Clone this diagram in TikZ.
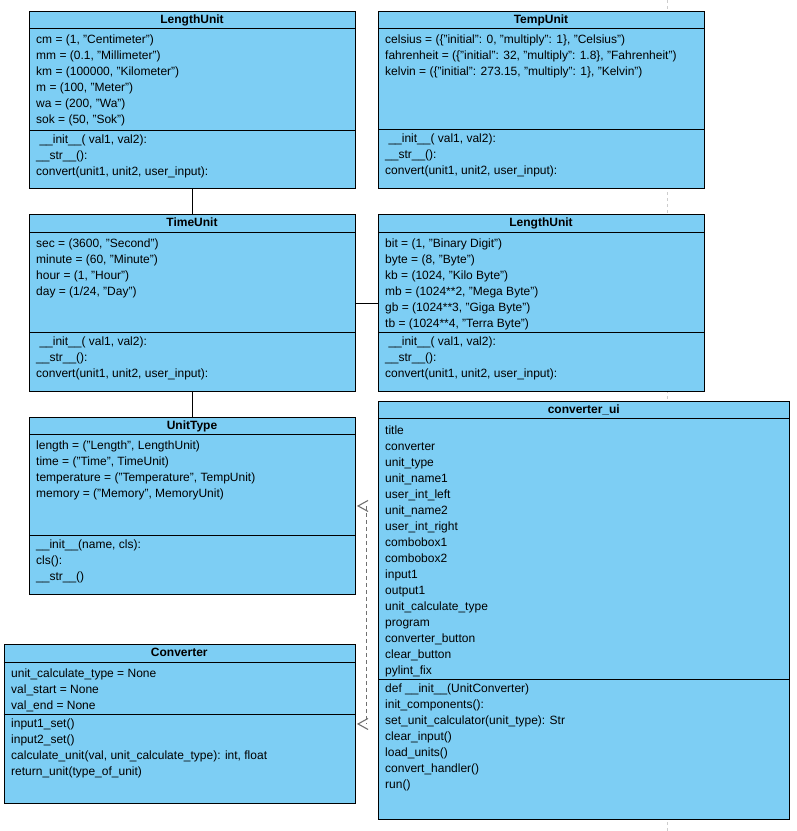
\documentclass[tikz,border=0pt]{standalone}
\usepackage{fontspec}
\setmainfont{Liberation Sans}
\usepackage{tikz}
\usetikzlibrary{arrows.meta}
\definecolor{clsfill}{HTML}{7DCEF4}
\definecolor{pagegray}{HTML}{CDCDCD}
\definecolor{depgray}{HTML}{707070}
\newcommand{\unitops}{\strut\hspace*{3.3pt}\_\_init\_\_( val1, val2):\\\_\_str\_\_():\\convert(unit1, unit2, user\_input):}

\begin{document}
\begin{tikzpicture}[x=1pt,y=-1pt,
  cls/.style={draw,fill=clsfill,line width=0.9pt,anchor=north west,inner sep=0pt},
  ttl/.style={font=\fontsize{12}{16}\selectfont\bfseries,anchor=base,inner sep=0pt},
  txt/.style={font=\fontsize{12}{16}\selectfont,anchor=north west,align=left,inner sep=0pt},
  rule/.style={line width=0.9pt},
  depline/.style={depgray,line width=1.1pt,dash pattern=on 4pt off 3pt},
  deptip/.style={depgray,line width=1.1pt,dash pattern=on 0pt off 40pt,shorten >=1pt,-{Straight Barb[length=10pt,width=11pt]}}]
  \useasboundingbox (0,0) rectangle (797,831);
  % page break of the drawing sheet
  \draw[pagegray,dash pattern=on 3pt off 3pt] (667,0) -- (667,831);

  % LengthUnit (top left)
  \node[cls,minimum width=326pt,minimum height=177pt] (lenU) at (29,11) {};
  \draw[rule] ([yshift=-17pt]lenU.north west) -- ([yshift=-17pt]lenU.north east);
  \draw[rule] ([yshift=-119pt]lenU.north west) -- ([yshift=-119pt]lenU.north east);
  \node[ttl] (lenUt) at (192,23.5) {LengthUnit};
  \node[txt] (lenUa) at (36,32.3) {\strut cm = (1, "Centimeter")\\mm = (0.1, "Millimeter")\\km = (100000, "Kilometer")\\m = (100, "Meter")\\wa = (200, "Wa")\\sok = (50, "Sok")};
  \node[txt] (lenUm) at (36,131.8) {\unitops};

  % TempUnit
  \node[cls,minimum width=326pt,minimum height=177pt] (temp) at (378,11) {};
  \draw[rule] ([yshift=-17pt]temp.north west) -- ([yshift=-17pt]temp.north east);
  \draw[rule] ([yshift=-118.5pt]temp.north west) -- ([yshift=-118.5pt]temp.north east);
  \node[ttl] (tempt) at (541,23.5) {TempUnit};
  \node[txt] (tempa) at (385,32.3) {\strut celsius = (\{"initial": 0, "multiply": 1\}, "Celsius")\\fahrenheit = (\{"initial": 32, "multiply": 1.8\}, "Fahrenheit")\\kelvin = (\{"initial": 273.15, "multiply": 1\}, "Kelvin")};
  \node[txt] (tempm) at (385,131.3) {\unitops};

  % TimeUnit
  \node[cls,minimum width=326pt,minimum height=177pt] (time) at (29,214) {};
  \draw[rule] ([yshift=-18pt]time.north west) -- ([yshift=-18pt]time.north east);
  \draw[rule] ([yshift=-118pt]time.north west) -- ([yshift=-118pt]time.north east);
  \node[ttl] (timet) at (192,226.5) {TimeUnit};
  \node[txt] (timea) at (36,236.3) {\strut sec = (3600, "Second")\\minute = (60, "Minute")\\hour = (1, "Hour")\\day = (1/24, "Day")};
  \node[txt] (timem) at (36,333.8) {\unitops};

  % LengthUnit (memory units)
  \node[cls,minimum width=326pt,minimum height=177pt] (mem) at (378,214) {};
  \draw[rule] ([yshift=-18pt]mem.north west) -- ([yshift=-18pt]mem.north east);
  \draw[rule] ([yshift=-118pt]mem.north west) -- ([yshift=-118pt]mem.north east);
  \node[ttl] (memt) at (541,226.5) {LengthUnit};
  \node[txt] (mema) at (385,236.3) {\strut bit = (1, "Binary Digit")\\byte = (8, "Byte")\\kb = (1024, "Kilo Byte")\\mb = (1024**2, "Mega Byte")\\gb = (1024**3, "Giga Byte")\\tb = (1024**4, "Terra Byte")};
  \node[txt] (memm) at (385,333.8) {\unitops};

  % UnitType
  \node[cls,minimum width=326pt,minimum height=177pt] (ut) at (29,417) {};
  \draw[rule] ([yshift=-17pt]ut.north west) -- ([yshift=-17pt]ut.north east);
  \draw[rule] ([yshift=-118pt]ut.north west) -- ([yshift=-118pt]ut.north east);
  \node[ttl] (utt) at (192,429.5) {UnitType};
  \node[txt] (uta) at (36,438.3) {\strut length = ("Length", LengthUnit)\\time = ("Time", TimeUnit)\\temperature = ("Temperature", TempUnit)\\memory = ("Memory", MemoryUnit)};
  \node[txt] (utm) at (36,536.8) {\strut\_\_init\_\_(name, cls):\\cls():\\\_\_str\_\_()};

  % Converter
  \node[cls,minimum width=351.5pt,minimum height=159pt] (conv) at (3.5,644) {};
  \draw[rule] ([yshift=-18pt]conv.north west) -- ([yshift=-18pt]conv.north east);
  \draw[rule] ([yshift=-70.3pt]conv.north west) -- ([yshift=-70.3pt]conv.north east);
  \node[ttl] (convt) at (179.3,656.5) {Converter};
  \node[txt] (conva) at (11,666.3) {\strut unit\_calculate\_type = None\\val\_start = None\\val\_end = None};
  \node[txt] (convm) at (11,716.1) {\strut input1\_set()\\input2\_set()\\calculate\_unit(val, unit\_calculate\_type): int, float\\return\_unit(type\_of\_unit)};

  % converter_ui
  \node[cls,minimum width=411pt,minimum height=418pt] (ui) at (378.3,401) {};
  \draw[rule] ([yshift=-17.3pt]ui.north west) -- ([yshift=-17.3pt]ui.north east);
  \draw[rule] ([yshift=-278pt]ui.north west) -- ([yshift=-278pt]ui.north east);
  \node[ttl] (uit) at (583.8,413.8) {converter\_ui};
  \node[txt] (uia) at (385,422.6) {\strut title\\converter\\unit\_type\\unit\_name1\\user\_int\_left\\unit\_name2\\user\_int\_right\\combobox1\\combobox2\\input1\\output1\\unit\_calculate\_type\\program\\converter\_button\\clear\_button\\pylint\_fix};
  \node[txt] (uim) at (385,680.8) {\strut def \_\_init\_\_(UnitConverter)\\init\_components():\\set\_unit\_calculator(unit\_type): Str\\clear\_input()\\load\_units()\\convert\_handler()\\run()};

  % associations
  \draw[rule] (lenU.south) -- (time.north);
  \draw[rule] (time.south) -- (ut.north);
  \draw[rule] (time.east) -- (mem.west);

  % dependencies of converter_ui
  \coordinate (hub) at (366.7,614);
  \draw[depline] (hub |- ut.east) -- (hub |- conv.east);
  \draw[deptip] (hub |- ut.east) -- (ut.east);
  \draw[deptip] (hub |- conv.east) -- (conv.east);
\end{tikzpicture}
\end{document}
